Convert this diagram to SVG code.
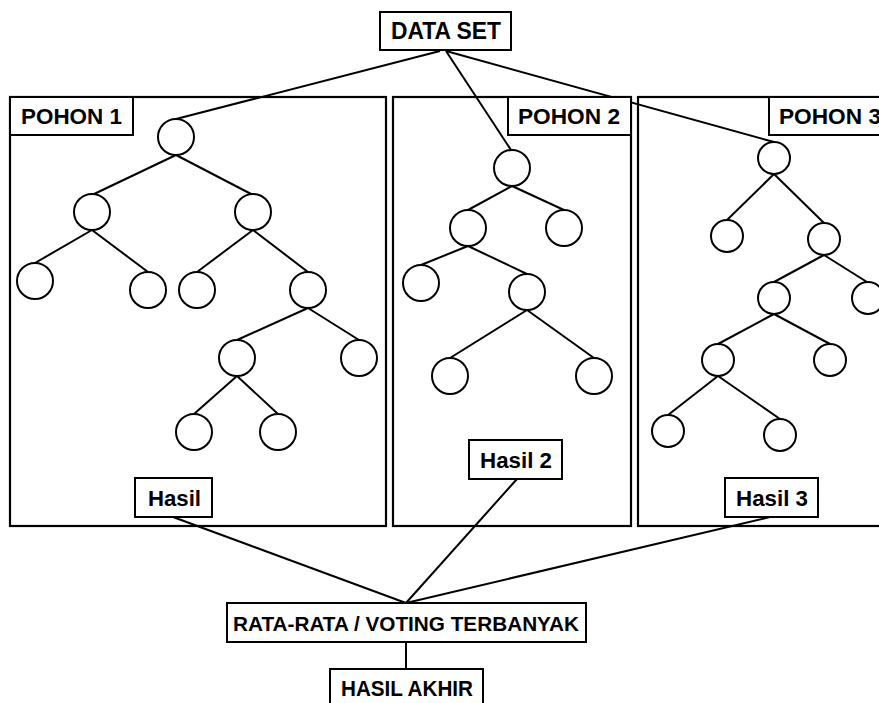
<svg xmlns="http://www.w3.org/2000/svg" width="879" height="703" viewBox="0 0 879 703">
<style>
rect{fill:#fff;stroke:#000;stroke-width:2}
.panel{fill:none;stroke:#000;stroke-width:2.2}
circle{fill:#fff;stroke:#000;stroke-width:2}
line{stroke:#000;stroke-width:2}
text{font-family:"Liberation Sans",Arial,sans-serif;font-weight:bold;font-size:22px;fill:#000}
</style>
<rect x="0" y="0" width="879" height="703" style="stroke:none"/>
<g id="panels">
<rect class="panel" x="10" y="97" width="376" height="429"/>
<rect class="panel" x="393" y="97" width="238" height="429"/>
<rect class="panel" x="638" y="97" width="250" height="429"/>
</g>
<g id="connectors">
<line x1="440" y1="51" x2="176" y2="119"/>
<line x1="446" y1="51" x2="511" y2="150"/>
<line x1="446" y1="51" x2="774" y2="142"/>
<line x1="176" y1="155" x2="92" y2="195"/>
<line x1="176" y1="155" x2="253" y2="195"/>
<line x1="92" y1="230" x2="35" y2="263"/>
<line x1="92" y1="230" x2="148" y2="272"/>
<line x1="253" y1="230" x2="197" y2="272"/>
<line x1="253" y1="230" x2="308" y2="272"/>
<line x1="308" y1="308" x2="237" y2="340"/>
<line x1="308" y1="308" x2="359" y2="340"/>
<line x1="237" y1="376" x2="194" y2="414"/>
<line x1="237" y1="376" x2="278" y2="414"/>
<line x1="512" y1="186" x2="468" y2="210"/>
<line x1="512" y1="186" x2="564" y2="210"/>
<line x1="468" y1="246" x2="421" y2="265"/>
<line x1="468" y1="246" x2="527" y2="274"/>
<line x1="527" y1="310" x2="450" y2="358"/>
<line x1="527" y1="310" x2="594" y2="358"/>
<line x1="774" y1="174" x2="727" y2="220"/>
<line x1="774" y1="174" x2="824" y2="223"/>
<line x1="824" y1="255" x2="774" y2="282"/>
<line x1="824" y1="255" x2="867" y2="282"/>
<line x1="774" y1="314" x2="718" y2="344"/>
<line x1="774" y1="314" x2="830" y2="344"/>
<line x1="718" y1="376" x2="668" y2="415"/>
<line x1="718" y1="376" x2="780" y2="419"/>
<line x1="173" y1="517" x2="406" y2="603"/>
<line x1="517" y1="479" x2="406" y2="603"/>
<line x1="770" y1="517" x2="406" y2="603"/>
<line x1="406" y1="642" x2="406" y2="669"/>
</g>
<g id="data-set"><rect x="380" y="12" width="131" height="38"/><text x="391" y="39" style="font-size:23px" textLength="110" lengthAdjust="spacingAndGlyphs">DATA SET</text></g>
<g id="pohon1-label"><rect x="10" y="97" width="123" height="38"/><text x="21" y="124" textLength="101" lengthAdjust="spacingAndGlyphs">POHON 1</text></g>
<g id="pohon2-label"><rect x="508" y="97" width="123" height="38"/><text x="518" y="124" textLength="102" lengthAdjust="spacingAndGlyphs">POHON 2</text></g>
<g id="pohon3-label"><rect x="769" y="97" width="123" height="38"/><text x="779" y="124" textLength="102" lengthAdjust="spacingAndGlyphs">POHON 3</text></g>
<g id="tree1">
<circle cx="176" cy="137" r="18"/>
<circle cx="92" cy="212" r="18"/>
<circle cx="253" cy="212" r="18"/>
<circle cx="35" cy="281" r="18"/>
<circle cx="148" cy="290" r="18"/>
<circle cx="197" cy="290" r="18"/>
<circle cx="308" cy="290" r="18"/>
<circle cx="237" cy="358" r="18"/>
<circle cx="359" cy="358" r="18"/>
<circle cx="194" cy="432" r="18"/>
<circle cx="278" cy="432" r="18"/>
</g>
<g id="tree2">
<circle cx="512" cy="168" r="18"/>
<circle cx="468" cy="228" r="18"/>
<circle cx="564" cy="228" r="18"/>
<circle cx="421" cy="283" r="18"/>
<circle cx="527" cy="292" r="18"/>
<circle cx="450" cy="376" r="18"/>
<circle cx="594" cy="376" r="18"/>
</g>
<g id="tree3">
<circle cx="774" cy="158" r="16"/>
<circle cx="727" cy="236" r="16"/>
<circle cx="824" cy="239" r="16"/>
<circle cx="774" cy="298" r="16"/>
<circle cx="868" cy="298" r="16"/>
<circle cx="718" cy="360" r="16"/>
<circle cx="830" cy="360" r="16"/>
<circle cx="668" cy="431" r="16"/>
<circle cx="780" cy="435" r="16"/>
</g>
<g id="hasil1"><rect x="135" y="478" width="77" height="39"/><text x="148" y="506" textLength="53" lengthAdjust="spacingAndGlyphs">Hasil</text></g>
<g id="hasil2"><rect x="469" y="440" width="93" height="39"/><text x="480" y="468" textLength="72" lengthAdjust="spacingAndGlyphs">Hasil 2</text></g>
<g id="hasil3"><rect x="725" y="478" width="93" height="39"/><text x="736" y="506" textLength="72" lengthAdjust="spacingAndGlyphs">Hasil 3</text></g>
<g id="rata-rata"><rect x="227" y="603" width="359" height="39"/><text x="233" y="631" style="font-size:21px" textLength="346" lengthAdjust="spacingAndGlyphs">RATA-RATA / VOTING TERBANYAK</text></g>
<g id="hasil-akhir"><rect x="330" y="669" width="153" height="40"/><text x="341" y="696" textLength="132" lengthAdjust="spacingAndGlyphs">HASIL AKHIR</text></g>
</svg>
